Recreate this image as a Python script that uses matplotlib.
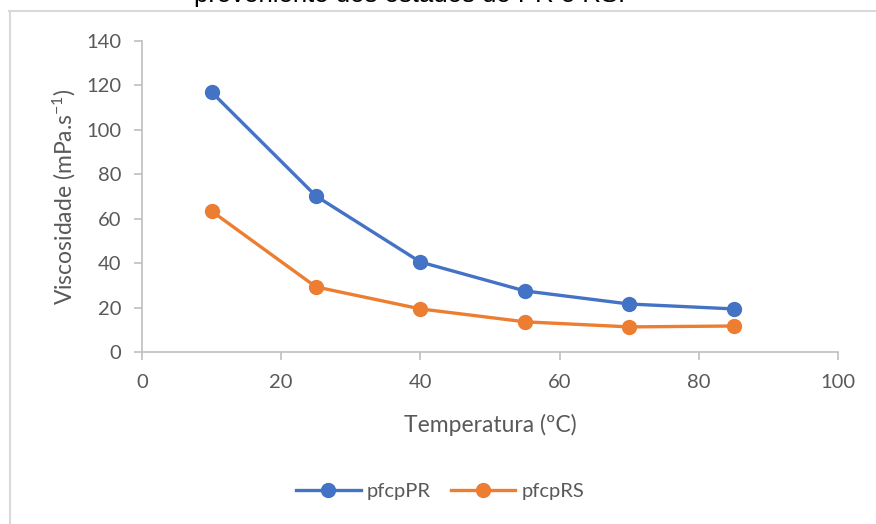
import matplotlib.pyplot as plt
from matplotlib.lines import Line2D

# data
temperatura = [10, 25, 40, 55, 70, 85]
pfcp_pr = [117.0, 70.2, 40.5, 27.5, 21.6, 19.4]
pfcp_rs = [63.4, 29.3, 19.4, 13.6, 11.3, 11.7]

blue = '#4472C4'
orange = '#ED7D31'
grey_txt = '#595959'
grey_ax = '#BFBFBF'

plt.rcParams['font.family'] = ['Lato', 'DejaVu Sans']
plt.rcParams['mathtext.fontset'] = 'custom'
plt.rcParams['mathtext.rm'] = 'Lato'
plt.rcParams['mathtext.it'] = 'Lato:italic'

fig = plt.figure(figsize=(8.76, 5.24), dpi=100)
ax = fig.add_axes([142 / 876, 1 - 352 / 524, (838 - 142) / 876, (352 - 41) / 524])

ax.plot(temperatura, pfcp_pr, color=blue, lw=2.4, marker='o', ms=10, label='pfcpPR')
ax.plot(temperatura, pfcp_rs, color=orange, lw=2.4, marker='o', ms=10, label='pfcpRS')

ax.set_xlim(0, 100)
ax.set_ylim(0, 140)
ax.set_xticks(range(0, 101, 20))
ax.set_yticks(range(0, 141, 20))
for s in ['top', 'right']:
    ax.spines[s].set_visible(False)
for s in ['left', 'bottom']:
    ax.spines[s].set_color(grey_ax)
    ax.spines[s].set_linewidth(1.2)
ax.tick_params(colors=grey_ax, labelcolor=grey_txt, labelsize=14.5, length=6, width=1.2)
ax.tick_params(axis='y', pad=9)
ax.tick_params(axis='x', pad=10)

ax.set_xlabel('Temperatura (ºC)', fontsize=16.5, color=grey_txt, labelpad=16)
ax.set_ylabel('Viscosidade (mPa.s$^{\\mathrm{-1}}$)', fontsize=16.5, color=grey_txt, labelpad=6)

ax.legend(loc='center', bbox_to_anchor=(440 / 876, 1 - 491 / 524), bbox_transform=fig.transFigure,
          ncol=2, frameon=False, fontsize=14.5, labelcolor=grey_txt, handlelength=3.2,
          columnspacing=1.0, handletextpad=0.3)

# chart frame (partly cropped)
fig.add_artist(Line2D([9.5 / 876, 9.5 / 876], [0, 1 - 11 / 524], transform=fig.transFigure,
                      color='#D9D9D9', lw=1.5))
fig.add_artist(Line2D([9 / 876, 1], [1 - 11 / 524, 1 - 11 / 524], transform=fig.transFigure,
                      color='#D9D9D9', lw=1.5))

# title, mostly cut off at the top
fig.text(410 / 876, 1 - 2 / 524, 'proveniente dos estados do PR e RS.', ha='center', va='baseline',
         fontsize=18.5, family='Liberation Sans', color='black')

fig.savefig('out.png', dpi=100)
